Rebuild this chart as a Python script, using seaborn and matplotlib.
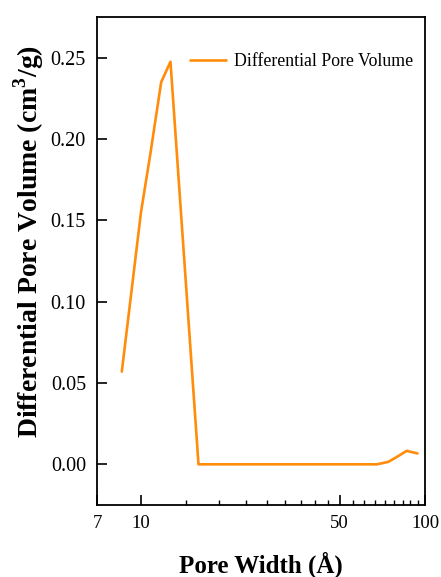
import numpy as np
import pandas as pd
import matplotlib
matplotlib.use("Agg")
import matplotlib.pyplot as plt
from matplotlib.ticker import FixedLocator, FixedFormatter, FormatStrFormatter
import seaborn as sns

# Pore size distribution (DFT)
pore_width = [8.56, 10.0, 10.77, 11.78, 12.70, 15.94, 67.7, 74.2, 79.0, 86.2, 94.1]
diff_pore_volume = [0.057, 0.155, 0.190, 0.235, 0.2475, 0.0, 0.0, 0.0015, 0.0042, 0.0083, 0.0067]

x_major = [7, 10, 50, 100]
x_major_labels = ["7", "10", "50", "100"]
y_ticks = [0.00, 0.05, 0.10, 0.15, 0.20, 0.25]

series_name = "Differential Pore Volume"
line_color = "#FF8C0A"

sns.set_theme(style="ticks")
plt.rcParams["font.family"] = ["Liberation Serif", "DejaVu Serif"]
plt.rcParams["mathtext.fontset"] = "custom"
plt.rcParams["mathtext.rm"] = "Liberation Serif"
plt.rcParams["mathtext.bf"] = "Liberation Serif:bold"
plt.rcParams["text.color"] = "black"
plt.rcParams["axes.labelcolor"] = "black"

df = pd.DataFrame({"width": pore_width, "volume": diff_pore_volume, "series": series_name})

fig = plt.figure(figsize=(4.41, 5.77), dpi=100)
fig.patch.set_facecolor("white")
ax = fig.add_axes([97 / 441, 1 - 505 / 577, (425 - 97) / 441, (505 - 17) / 577])
ax.set_facecolor("white")

sns.lineplot(data=df, x="width", y="volume", hue="series", palette=[line_color],
             linewidth=1.9, ax=ax, legend=True, sort=False)

ax.set_xscale("log")
ax.set_xlim(7, 100)
ax.set_ylim(-0.025, 0.275)

# Linear subdivision of each major interval into nine parts
minor = []
for a, b in [(10, 50), (50, 100)]:
    step = (b - a) / 9
    minor += [a + step * k for k in range(1, 9)]
ax.xaxis.set_major_locator(FixedLocator(x_major))
ax.xaxis.set_major_formatter(FixedFormatter(x_major_labels))
ax.xaxis.set_minor_locator(FixedLocator(minor))
ax.xaxis.set_minor_formatter(FixedFormatter([""] * len(minor)))
ax.yaxis.set_major_locator(FixedLocator(y_ticks))
ax.yaxis.set_major_formatter(FormatStrFormatter("%.2f"))
ax.yaxis.set_minor_locator(FixedLocator([]))

for s in ax.spines.values():
    s.set_visible(True)
    s.set_linewidth(1.3)
    s.set_color("black")

ax.tick_params(axis="both", which="major", direction="in", length=7, width=1.2,
               colors="black", labelcolor="black")
ax.tick_params(axis="x", which="major", labelsize=13.5, pad=7)
ax.tick_params(axis="y", which="major", labelsize=14.5, pad=8)
ax.tick_params(axis="x", which="minor", direction="in", length=3.5, width=1.0, colors="black")
ax.tick_params(top=False, right=False, which="both")

ax.set_xlabel("Pore Width (Å)", fontsize=18, fontweight="bold", labelpad=14, color="black")
ax.set_ylabel(r"Differential Pore Volume (cm$^\mathbf{3}$/g)", fontsize=20,
              fontweight="bold", color="black")
ax.yaxis.set_label_coords(-0.155, 0.54)

leg = ax.legend(loc="center left", bbox_to_anchor=(190 / 441, 1 - 62 / 577),
                bbox_transform=fig.transFigure, frameon=False, fontsize=12.8,
                handlelength=2.05, handletextpad=0.45, borderpad=0, borderaxespad=0)
for t in leg.get_texts():
    t.set_color("black")
for h in leg.get_lines():
    h.set_linewidth(1.9)

fig.savefig("out.png", dpi=100, facecolor="white")
